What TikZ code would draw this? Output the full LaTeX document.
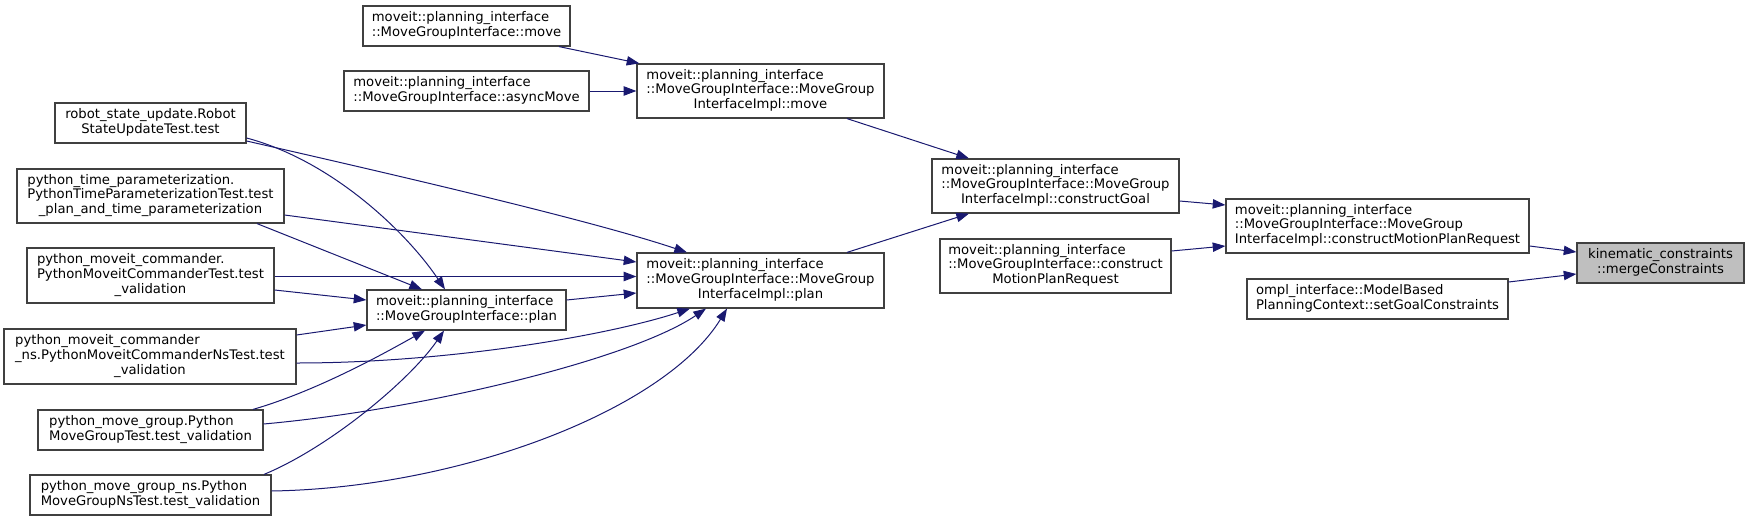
\documentclass[tikz,border=0pt]{standalone}
\usepackage{fontspec}
\setmainfont{DejaVu Sans}
\usetikzlibrary{arrows.meta,calc}
\definecolor{edgecol}{HTML}{191970}
\definecolor{boxcol}{HTML}{404040}
\definecolor{hl}{HTML}{BFBFBF}
\newcommand{\tb}[1]{\begin{tabular}{@{}l@{}}#1\end{tabular}}
\newcommand{\lastl}[1]{\multicolumn{1}{@{}c@{}}{#1}}
\tikzset{
  box/.style={draw=boxcol, line width=0.9pt, fill=white, inner sep=0pt,
    font=\fontsize{9.9}{11}\selectfont},
  sz/.style 2 args={minimum width=#1*0.75pt, minimum height=#2*0.75pt},
  edge/.style={draw=edgecol, line width=0.75pt,
    -{Triangle[length=9.5pt,width=7pt,fill=edgecol]}}
}
\begin{document}
\begin{tikzpicture}[x=0.75pt,y=-0.75pt]
\useasboundingbox (0,0) rectangle (1749,521);
% nodes
\node[box,sz={167}{40},fill=hl] (kc) at (1660.5,263) {\tb{kinematic\_constraints\\\lastl{::mergeConstraints}}};
\node[box,sz={261}{40}] (ompl) at (1377.5,299) {\tb{ompl\_interface::ModelBased\\PlanningContext::setGoalConstraints}};
\node[box,sz={303}{54}] (implcmpr) at (1377.5,226) {\tb{moveit::planning\_interface\\::MoveGroupInterface::MoveGroup\\InterfaceImpl::constructMotionPlanRequest}};
\node[box,sz={247}{54}] (goal) at (1055.5,186) {\tb{moveit::planning\_interface\\::MoveGroupInterface::MoveGroup\\\lastl{InterfaceImpl::constructGoal}}};
\node[box,sz={231}{54}] (cmpr) at (1055.5,266) {\tb{moveit::planning\_interface\\::MoveGroupInterface::construct\\\lastl{MotionPlanRequest}}};
\node[box,sz={247}{54}] (implmove) at (760.5,91) {\tb{moveit::planning\_interface\\::MoveGroupInterface::MoveGroup\\\lastl{InterfaceImpl::move}}};
\node[box,sz={247}{55}] (implplan) at (760.5,280.5) {\tb{moveit::planning\_interface\\::MoveGroupInterface::MoveGroup\\\lastl{InterfaceImpl::plan}}};
\node[box,sz={207}{40}] (move) at (466.5,26) {\tb{moveit::planning\_interface\\::MoveGroupInterface::move}};
\node[box,sz={245}{40}] (async) at (466.5,91) {\tb{moveit::planning\_interface\\::MoveGroupInterface::asyncMove}};
\node[box,sz={199}{40}] (plan) at (466.5,310) {\tb{moveit::planning\_interface\\::MoveGroupInterface::plan}};
\node[box,sz={191}{40}] (robot) at (150.5,123) {\tb{robot\_state\_update.Robot\\\lastl{StateUpdateTest.test}}};
\node[box,sz={267}{54}] (tp) at (150.5,196) {\tb{python\_time\_parameterization.\\PythonTimeParameterizationTest.test\\\lastl{\_plan\_and\_time\_parameterization}}};
\node[box,sz={247}{55}] (cmd) at (150.5,275.5) {\tb{python\_moveit\_commander.\\PythonMoveitCommanderTest.test\\\lastl{\_validation}}};
\node[box,sz={292}{55}] (cmdns) at (150,356.5) {\tb{python\_moveit\_commander\\\_ns.PythonMoveitCommanderNsTest.test\\\lastl{\_validation}}};
\node[box,sz={225}{40}] (mg) at (150.5,430) {\tb{python\_move\_group.Python\\MoveGroupTest.test\_validation}};
\node[box,sz={241}{40}] (mgns) at (150.5,495) {\tb{python\_move\_group\_ns.Python\\MoveGroupNsTest.test\_validation}};
% edges
\draw[edge] ($(implcmpr.east)+(0,20)$) -- ($(kc.west)+(0,-11)$);
\draw[edge] ($(ompl.east)+(0,-17)$) -- ($(kc.west)+(0,11)$);
\draw[edge] ($(goal.east)+(0,15)$) -- ($(implcmpr.west)+(0,-21)$);
\draw[edge] ($(cmpr.east)+(0,-15)$) -- ($(implcmpr.west)+(0,20)$);
\draw[edge] ($(implmove.south)+(86.5,0)$) -- ($(goal.north)+(-86.5,0)$);
\draw[edge] ($(implplan.north)+(86.5,0)$) -- ($(goal.south)+(-86.5,0)$);
\draw[edge] ($(move.south)+(92.5,0)$) -- ($(implmove.north west)+(3,0)$);
\draw[edge] (async.east) -- (async.east -| implmove.west);
\draw[edge] ($(robot.east)+(0,18)$) .. controls (400,176) and (590,220) .. ($(implplan.north)+(-73.5,0)$);
\draw[edge] ($(robot.east)+(0,15)$) .. controls (330,160) and (405,230) .. ($(plan.north)+(-21.5,0)$);
\draw[edge] ($(tp.east)+(0,19)$) -- ($(implplan.west)+(0,-18.5)$);
\draw[edge] ($(tp.south)+(106.5,0)$) -- ($(plan.north)+(-44.5,0)$);
\draw[edge] ($(cmd.east)+(0,1)$) -- ($(implplan.west)+(0,-4)$);
\draw[edge] ($(cmd.east)+(0,14.5)$) -- ($(plan.west)+(0,-10)$);
\draw[edge] ($(cmdns.east)+(0,-21.5)$) -- ($(plan.west)+(0,15)$);
\draw[edge] ($(cmdns.east)+(0,6.5)$) .. controls (450,363) and (610,335) .. ($(implplan.south)+(-70.5,0)$);
\draw[edge] ($(mg.north)+(102.5,0)$) .. controls (320,390) and (390,350) .. ($(plan.south)+(-41.5,0)$);
\draw[edge] ($(mg.east)+(0,-6)$) .. controls (420,410) and (630,360) .. ($(implplan.south)+(-54.5,0)$);
\draw[edge] ($(mgns.north)+(113.5,0)$) .. controls (330,447) and (410,380) .. ($(plan.south)+(-22.5,0)$);
\draw[edge] ($(mgns.east)+(0,-4)$) .. controls (460,488) and (665,410) .. ($(implplan.south)+(-33.5,0)$);
\draw[edge] ($(plan.east)+(0,-10)$) -- ($(implplan.west)+(0,12.5)$);
\end{tikzpicture}
\end{document}
